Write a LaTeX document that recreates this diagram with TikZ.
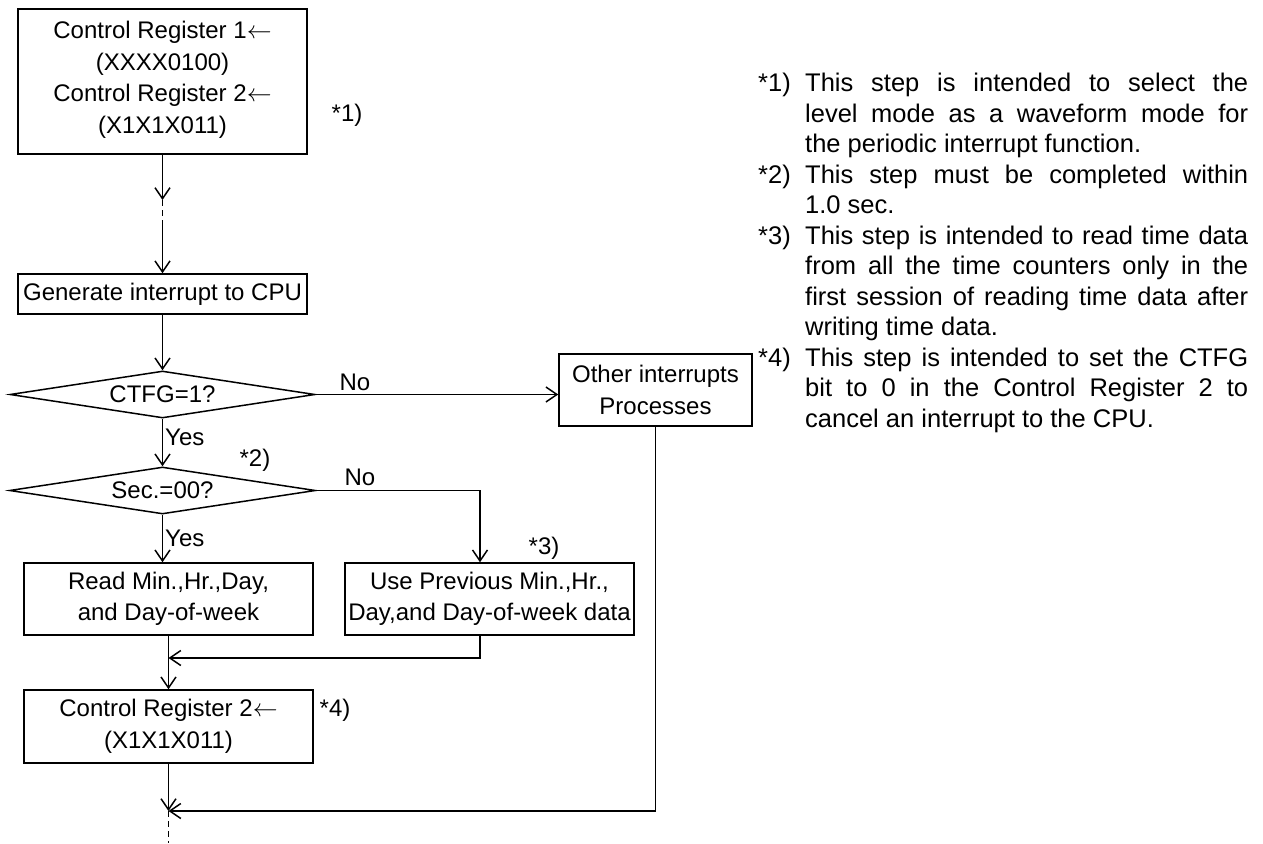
\documentclass[tikz,border=0pt]{standalone}
\usepackage{fontspec}
\setmainfont{Liberation Sans}
\usetikzlibrary{shapes.geometric,arrows.meta}
\newcommand{\noteline}[2]{\makebox[47pt][l]{#1}\makebox[443pt][s]{#2}}
\newcommand{\notelast}[2]{\makebox[47pt][l]{#1}#2}
\begin{document}
\begin{tikzpicture}[x=1pt,y=-1pt,
  every node/.style={font=\fontsize{24}{31.5}\selectfont},
  box/.style={draw,line width=1.5pt,inner sep=0pt,align=center,minimum width=289pt},
  dia/.style={draw,diamond,aspect=6.5,line width=1.5pt,inner sep=0pt,minimum width=305pt,minimum height=47pt},
  flow/.style={line width=1.5pt},
  arr/.style={flow,-{Straight Barb[length=11pt,width=15pt,line width=1.5pt]}},
  dsh/.style={line width=1.8pt,dash pattern=on 6pt off 4pt},
  lbl/.style={inner sep=0pt}]
\useasboundingbox (0,0) rectangle (1263,843);

% boxes
\node[box,minimum height=145pt] (cr1) at (162.5,81.5) {Control Register 1$\leftarrow$\\(XXXX0100)\\Control Register 2$\leftarrow$\\(X1X1X011)\\[-23pt]};
\node[box,minimum height=40pt] (gen) at (162.5,294) {Generate interrupt to CPU};
\node[dia] (d1) at (162.5,394.5) {CTFG=1?};
\node[dia,minimum width=306pt] (d2) at (162.5,490.5) {Sec.=00?};
\node[box,minimum height=72pt] (read) at (168.5,599) {Read Min.,Hr.,Day,\\and Day-of-week};
\node[box,minimum height=72pt] (use) at (489.5,599) {Use Previous Min.,Hr.,\\Day,and Day-of-week data};
\node[box,minimum height=73pt] (cr2) at (168.5,726.5) {Control Register 2$\leftarrow$\\(X1X1X011)};
\node[box,minimum width=193pt,minimum height=72pt] (oth) at (655.5,390) {Other interrupts\\Processes};

% connectors
\coordinate (a1) at (162.5,200);
\coordinate (a2) at (162.5,225);
\draw[arr] (cr1.south) -- (a1);
\draw[dsh] (a1) -- (a2);
\draw[arr] (a2) -- (gen.north);
\draw[arr] (gen.south) -- (d1.north);
\draw[arr] (d1.east) -- (d1.east -| oth.west);
\draw[arr] (d1.south) -- (d2.north);
\coordinate (c2) at (480,490.5);
\draw[arr] (d2.east) -- (c2) -- (c2 |- use.north);
\draw[arr] (d2.south) -- (d2.south |- read.north);
\coordinate (m1) at (168.5,658);
\draw[arr] (use.south -| c2) -- (c2 |- m1) -- (m1);
\draw[arr] (read.south) -- (cr2.north);
\coordinate (m2) at (168.5,811);
\draw[arr] (cr2.south) -- (m2);
\draw[arr] (oth.south) -- (oth.south |- m2) -- (m2);
\coordinate (fin) at (168.5,843);
\draw[dsh] (m2) -- (fin);

% labels
\node[lbl] (no1) at (355,382) {No};
\node[lbl] (no2) at (360,477) {No};
\node[lbl,anchor=west] (yes1) at (165,437) {Yes};
\node[lbl,anchor=west] (yes2) at (165,538) {Yes};
\node[lbl] (n1) at (347,115) {*1)};
\node[lbl] (n2) at (255,460) {*2)};
\node[lbl] (n3) at (544,548) {*3)};
\node[lbl] (n4) at (335,710) {*4)};

% notes
\node[lbl,anchor=base west,font=\fontsize{25.5}{30.5}\selectfont] (notes) at (758,92) {\parbox[t]{490pt}{%
\noteline{*1)}{This step is intended to select the}\\
\noteline{}{level mode as a waveform mode for}\\
\notelast{}{the periodic interrupt function.}\\
\noteline{*2)}{This step must be completed within}\\
\notelast{}{1.0 sec.}\\
\noteline{*3)}{This step is intended to read time data}\\
\noteline{}{from all the time counters only in the}\\
\noteline{}{first session of reading time data after}\\
\notelast{}{writing time data.}\\
\noteline{*4)}{This step is intended to set the CTFG}\\
\noteline{}{bit to 0 in the Control Register 2 to}\\
\notelast{}{cancel an interrupt to the CPU.}}};
\end{tikzpicture}
\end{document}
